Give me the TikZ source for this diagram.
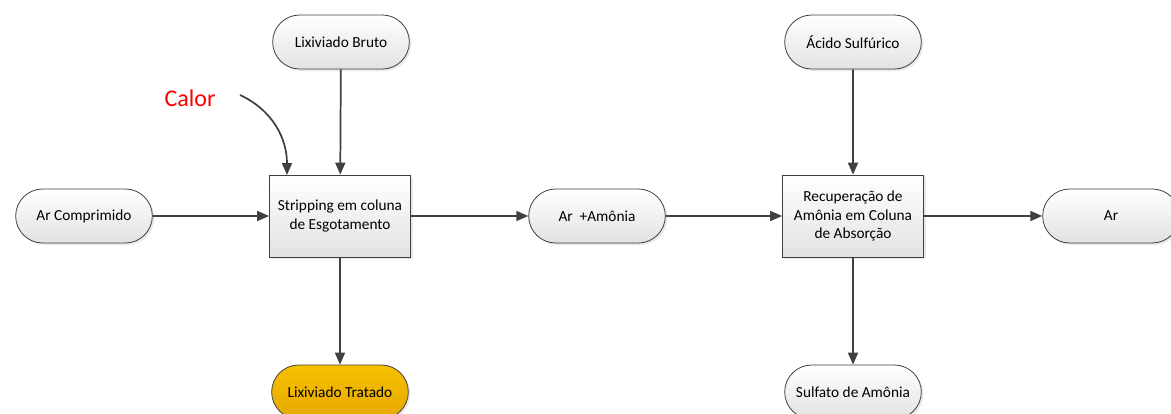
\documentclass[tikz,border=0pt]{standalone}
\usepackage{fontspec}
\setmainfont{Carlito}
\usetikzlibrary{arrows.meta, shapes.misc, shadows}

\definecolor{linegray}{HTML}{404040}
\definecolor{boxgray}{HTML}{E2E2E2}
\definecolor{goldtop}{HTML}{F7C000}
\definecolor{goldbot}{HTML}{E6A800}

\tikzset{
  terminal/.style={rounded rectangle, draw=linegray, line width=0.6pt,
    minimum width=106.5pt, minimum height=40.5pt, inner sep=2pt,
    top color=white, bottom color=boxgray, font=\fontsize{11.5}{14}\selectfont,
    drop shadow={shadow xshift=1.5pt, shadow yshift=-1.5pt, opacity=0.18}},
  procbox/.style={rectangle, draw=linegray, line width=0.6pt,
    minimum width=105.75pt, minimum height=61.5pt, align=center, inner sep=1pt,
    top color=white, bottom color=boxgray, font=\fontsize{11.5}{14}\selectfont,
    drop shadow={shadow xshift=1.5pt, shadow yshift=-1.5pt, opacity=0.18}},
  flow/.style={draw=linegray, line width=1.3pt, -{Triangle[length=9pt, width=7.5pt]}}
}

\begin{document}
\begin{tikzpicture}[x=0.75pt, y=-0.75pt]
\useasboundingbox (0,0) rectangle (1171,414);
% Stripping stage
\node[terminal] (lixbruto) at (341,42) {Lixiviado Bruto};
\node[terminal] (arcomp) at (84,216) {Ar Comprimido};
\node[procbox] (strip) at (340,216) {Stripping em coluna\\de Esgotamento};
\node[terminal, top color=goldtop, bottom color=goldbot] (lixtrat) at (340,392) {Lixiviado Tratado};
\node[text=red, font=\fontsize{18}{20}\selectfont] (calor) at (190,98) {Calor};
\coordinate (calorstart) at (240,95);
\coordinate (calorend) at (287,175);
% Absorption stage
\node[terminal] (aramonia) at (597,216) {Ar \ +Amônia};
\node[procbox] (recup) at (853,216) {Recuperação de\\Amônia em Coluna\\de Absorção};
\node[terminal] (acido) at (853,42) {Ácido Sulfúrico};
\node[terminal] (ar) at (1111,216) {Ar};
\node[terminal] (sulfato) at (853,392) {Sulfato de Amônia};
% Connectors
\draw[flow] (arcomp) -- (strip);
\draw[flow] (lixbruto) -- (strip);
\draw[flow] (strip) -- (lixtrat);
\draw[flow] (calorstart) to[out=-25, in=90] (calorend);
\draw[flow] (strip) -- (aramonia);
\draw[flow] (aramonia) -- (recup);
\draw[flow] (acido) -- (recup);
\draw[flow] (recup) -- (ar);
\draw[flow] (recup) -- (sulfato);
\end{tikzpicture}
\end{document}
